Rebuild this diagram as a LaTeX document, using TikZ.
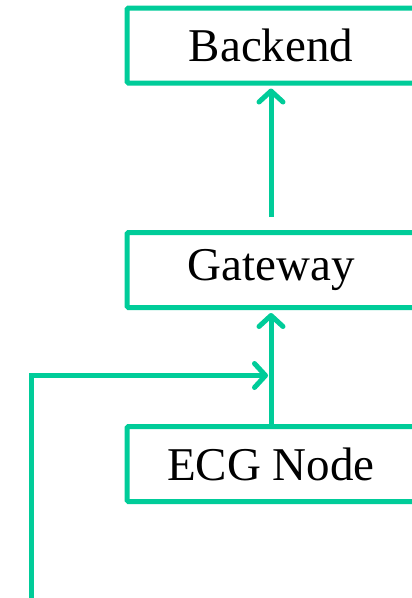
\documentclass[tikz,border=0pt]{standalone}
\usepackage{fontspec}
\setmainfont{Liberation Serif}
\usetikzlibrary{arrows.meta}
\definecolor{flowgreen}{RGB}{0,204,153}
\tikzset{
  box/.style={draw=flowgreen, line width=5pt, rounded corners=1.5pt, fill=white,
    minimum width=288pt, minimum height=75pt, inner sep=0pt,
    font=\fontsize{47}{56}\selectfont, text=black},
  arr/.style={draw=flowgreen, line width=5pt,
    -{Straight Barb[length=11pt,width=24pt,line width=5pt,round]}},
}
\begin{document}
\begin{tikzpicture}[x=1pt,y=1pt]
\clip (0,0) rectangle (412,-598);
\fill[white] (0,0) rectangle (412,-598);
\node[box] (backend) at (271,-45.5) {Backend};
\node[box] (gateway) at (271,-270) {Gateway};
\node[box] (ecg) at (271,-464) {ECG Node};
\coordinate (src) at (31,-600);
\coordinate (join) at (ecg.north |- 0,-375.5);
\draw[arr, shorten <=13pt, shorten >=3pt] (gateway.north) -- (backend.south);
\draw[arr, shorten >=3pt] (ecg.north) -- (gateway.south);
\draw[arr, shorten >=3pt] (src) |- (join);
\end{tikzpicture}
\end{document}
